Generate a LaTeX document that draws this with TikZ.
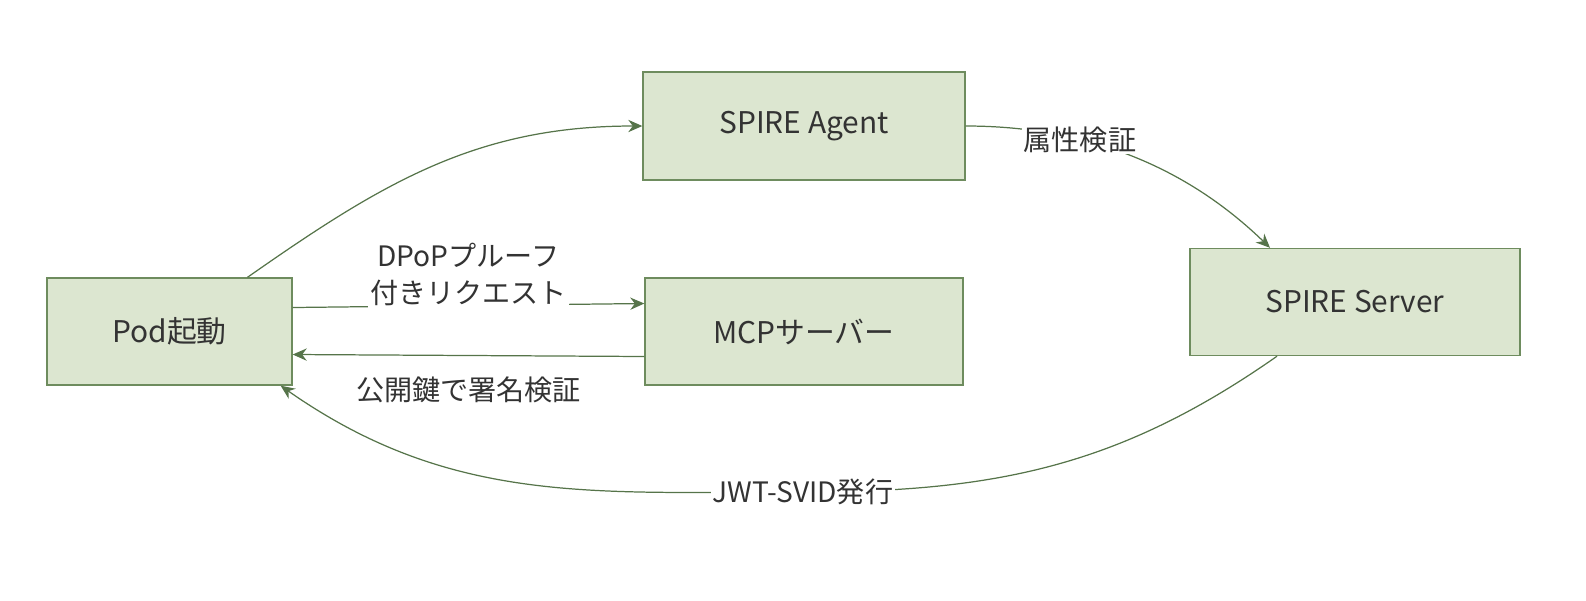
\documentclass[tikz,border=0pt]{standalone}
\usepackage{fontspec}
\setmainfont{Noto Sans CJK JP}
\usetikzlibrary{positioning,arrows.meta}
\definecolor{boxfill}{HTML}{DCE6D0}
\definecolor{boxline}{HTML}{6E8C5E}
\definecolor{flowline}{HTML}{56744A}
\definecolor{txt}{HTML}{333333}

\begin{document}
	\begin{tikzpicture}[x=0.02cm,y=-0.02cm]
		\tikzset{
			my box/.style={
					draw=boxline, fill=boxfill, line width=0.8pt,
					minimum height=2.14cm, text=txt,
					font=\fontsize{17}{20}\selectfont,
				},
			my flow/.style={
					draw=flowline, line width=0.7pt,
					-{Stealth[length=8pt,width=7pt]},
				},
			my label/.style={
					fill=white, text=txt, inner sep=1pt, align=center,
					font=\fontsize{16}{21}\selectfont,
				},
		}
		\useasboundingbox (0,0) rectangle (1586,600);
		%
		\node[my box, minimum width=4.9cm] at (169.5,331.5) (pod) {Pod起動};
		\node[my box, minimum width=6.44cm, minimum height=2.16cm] at (804,126) (agent) {SPIRE Agent};
		\node[my box, minimum width=6.36cm] at (804,331.5) (mcp) {MCPサーバー};
		\node[my box, minimum width=6.6cm] at (1355,302) (server) {SPIRE Server};
		\coordinate (jwt) at (803,492);
		%
		\draw[my flow] ([xshift=1.56cm]pod.north) to[out=35, in=180] (agent.west);
		\draw[my flow] (agent.east) .. controls +(140,0) and (1200,180) .. ([xshift=-1.7cm]server.north)
			node[pos=0.3, my label] {属性検証};
		\draw[my flow] ([yshift=0.48cm]pod.east) -- ([yshift=0.56cm]mcp.west)
			node[midway, yshift=0.62cm, my label] (dpop) {DPoPプルーフ\\付きリクエスト};
		\draw[my flow] ([yshift=-0.5cm]mcp.west) -- ([yshift=-0.46cm]pod.east)
			node[midway, below=11pt, my label] (verify) {公開鍵で署名検証};
		\draw[draw=flowline, line width=0.7pt] ([xshift=-1.56cm]server.south) to[out=215, in=0] (jwt);
		\draw[my flow] (jwt) to[out=180, in=-35] ([xshift=-0.24cm]pod.south east);
		\node[my label] at (jwt) (jwtlabel) {JWT-SVID発行};
	\end{tikzpicture}
\end{document}
